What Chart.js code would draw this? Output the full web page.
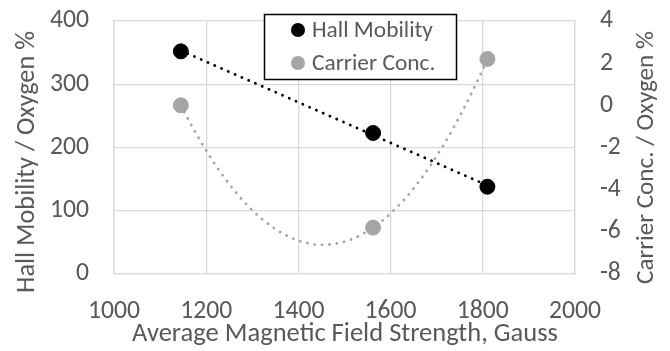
<!DOCTYPE html>
<html>
<head>
<meta charset="utf-8">
<script src="https://cdn.jsdelivr.net/npm/chart.js@4/dist/chart.umd.min.js"></script>
<style>
html,body{margin:0;padding:0;background:#fff;}
#wrap{width:670px;height:351px;position:relative;}
</style>
</head>
<body>
<div id="wrap"><canvas id="c" width="670" height="351"></canvas></div>
<script>
// ---- data ----
const fieldGauss   = [1145, 1562, 1810];
const hallMobility = [352, 223, 138];
const carrierConc  = [0, -5.8, 2.2];
const seriesNames  = ['Hall Mobility', 'Carrier Conc.'];
const xTicks  = [1000, 1200, 1400, 1600, 1800, 2000];
const xTitle  = 'Average Magnetic Field Strength, Gauss';
const yTitleL = 'Hall Mobility / Oxygen %';
const yTitleR = 'Carrier Conc. / Oxygen %';

const FONT = 'Carlito, Lato';
const TXT = '#595959';
const GRID = '#D9D9D9';
const AREA = { left: 114, top: 21, right: 575, bottom: 274 };

const mctx = document.createElement('canvas').getContext('2d');
function fitSize(text, target){
  mctx.font = '100px ' + FONT;
  return 100 * target / mctx.measureText(text).width;
}
const TICK_FS   = fitSize('1000', 52);
const XT_FS     = fitSize(xTitle, 426);
const YL_FS     = fitSize(yTitleL, 262);
const YR_FS     = fitSize(yTitleR, 253);
const LEG_FS    = fitSize(seriesNames[0], 121);

function linFit(xs, ys){
  const n = xs.length;
  let sx=0, sy=0, sxx=0, sxy=0;
  for(let i=0;i<n;i++){sx+=xs[i];sy+=ys[i];sxx+=xs[i]*xs[i];sxy+=xs[i]*ys[i];}
  const b = (n*sxy - sx*sy)/(n*sxx - sx*sx);
  const a = (sy - b*sx)/n;
  return x => a + b*x;
}
function quadFit(xs, ys){
  let S=[0,0,0,0,0], T=[0,0,0];
  for(let i=0;i<xs.length;i++){
    const x = xs[i]-xs[0], y = ys[i];
    for(let k=0;k<5;k++) S[k]+=Math.pow(x,k);
    for(let k=0;k<3;k++) T[k]+=Math.pow(x,k)*y;
  }
  const M=[[S[0],S[1],S[2],T[0]],[S[1],S[2],S[3],T[1]],[S[2],S[3],S[4],T[2]]];
  for(let i=0;i<3;i++){
    let p=i; for(let r=i+1;r<3;r++) if(Math.abs(M[r][i])>Math.abs(M[p][i])) p=r;
    [M[i],M[p]]=[M[p],M[i]];
    for(let r=0;r<3;r++){ if(r===i) continue; const f=M[r][i]/M[i][i]; for(let c=i;c<4;c++) M[r][c]-=f*M[i][c]; }
  }
  const c0=M[0][3]/M[0][0], c1=M[1][3]/M[1][1], c2=M[2][3]/M[2][2];
  const x0 = xs[0];
  return x => { const d=x-x0; return c0 + c1*d + c2*d*d; };
}

const trendPlugin = {
  id: 'trend',
  beforeDatasetsDraw(chart){
    const ctx = chart.ctx, xs = chart.scales.x;
    const ca = chart.chartArea;
    ctx.save();
    ctx.beginPath(); ctx.rect(ca.left, ca.top, ca.right-ca.left, ca.bottom-ca.top); ctx.clip();
    ctx.lineCap = 'round';
    ctx.lineWidth = 2.8;
    ctx.setLineDash([0.1, 7.3]);
    chart.data.datasets.forEach((ds) => {
      const px = ds.data.map(p=>p.x), py = ds.data.map(p=>p.y);
      const ys = chart.scales[ds.yAxisID];
      const f = ds.trend === 'linear' ? linFit(px, py) : quadFit(px, py);
      const x0 = Math.min(...px), x1 = Math.max(...px);
      ctx.strokeStyle = ds.trendColor;
      ctx.beginPath();
      const N = 200;
      for(let k=0;k<=N;k++){
        const xv = x0 + (x1-x0)*k/N;
        const X = xs.getPixelForValue(xv), Y = ys.getPixelForValue(f(xv));
        if(k===0) ctx.moveTo(X,Y); else ctx.lineTo(X,Y);
      }
      ctx.stroke();
    });
    ctx.restore();
  }
};

const decoPlugin = {
  id: 'deco',
  afterDraw(chart){
    const ctx = chart.ctx;
    ctx.save();
    ctx.fillStyle = TXT;
    ctx.textBaseline = 'alphabetic';
    ctx.textAlign = 'center';
    ctx.font = XT_FS + 'px ' + FONT;
    ctx.fillText(xTitle, 345, 341);
    ctx.save();
    ctx.translate(34, 162); ctx.rotate(-Math.PI/2);
    ctx.font = YL_FS + 'px ' + FONT;
    ctx.fillText(yTitleL, 0, 0);
    ctx.restore();
    ctx.save();
    ctx.translate(653, 157.5); ctx.rotate(-Math.PI/2);
    ctx.font = YR_FS + 'px ' + FONT;
    ctx.fillText(yTitleR, 0, 0);
    ctx.restore();
    const bx=264.5, by=14.5, bw=192, bh=65;
    ctx.fillStyle='#fff';
    ctx.fillRect(bx,by,bw,bh);
    ctx.strokeStyle='#000'; ctx.lineWidth=1.5;
    ctx.strokeRect(bx,by,bw,bh);
    ctx.font = LEG_FS+'px '+FONT;
    ctx.textAlign = 'left';
    ctx.textBaseline='middle';
    chart.data.datasets.forEach((ds,i)=>{
      const cy = 30 + i*33;
      ctx.fillStyle = ds.backgroundColor;
      ctx.beginPath(); ctx.arc(298, cy, 7, 0, Math.PI*2); ctx.fill();
      ctx.fillStyle = TXT;
      ctx.fillText(ds.label, 312, cy+1);
    });
    ctx.restore();
  }
};

function noPad(s){ s.paddingTop = 0; s.paddingBottom = 0; }

const chart = new Chart(document.getElementById('c'), {
  type: 'scatter',
  data: {
    datasets: [
      { label: seriesNames[0], data: fieldGauss.map((x,i)=>({x, y: hallMobility[i]})),
        yAxisID: 'y', backgroundColor: '#000000', borderColor: '#000000',
        pointRadius: 7.5, pointHoverRadius: 7.5, trend: 'linear', trendColor: '#000000' },
      { label: seriesNames[1], data: fieldGauss.map((x,i)=>({x, y: carrierConc[i]})),
        yAxisID: 'y2', backgroundColor: '#A5A5A5', borderColor: '#A5A5A5',
        pointRadius: 7.5, pointHoverRadius: 7.5, trend: 'poly2', trendColor: '#A5A5A5' }
    ]
  },
  options: {
    responsive: false,
    animation: false,
    events: [],
    layout: { padding: { top: AREA.top, left: 0, right: 0, bottom: 0 } },
    plugins: { legend: { display: false }, tooltip: { enabled: false } },
    scales: {
      x: {
        type: 'linear', min: xTicks[0], max: xTicks[xTicks.length-1],
        afterBuildTicks(s){ s.ticks = xTicks.map(v=>({value:v})); },
        ticks: { color: TXT, font: { family: FONT, size: TICK_FS }, padding: 22, maxRotation: 0,
                 callback: v => String(v) },
        grid: { color: GRID, lineWidth: 1.3, drawTicks: false },
        border: { color: GRID, width: 1.3 },
        afterFit(s){ s.height = 351 - AREA.bottom; s.paddingLeft = 0; s.paddingRight = 0; }
      },
      y: {
        position: 'left', min: 0, max: 400,
        ticks: { stepSize: 100, color: TXT, font: { family: FONT, size: TICK_FS }, padding: 25 },
        grid: { color: GRID, lineWidth: 1.3, drawTicks: false },
        border: { color: GRID, width: 1.3 },
        afterFit(s){ s.width = AREA.left; noPad(s); }
      },
      y2: {
        position: 'right', min: -8, max: 4,
        ticks: { stepSize: 2, color: TXT, font: { family: FONT, size: TICK_FS }, padding: 25 },
        grid: { display: false, drawTicks: false },
        border: { color: GRID, width: 1.3 },
        afterFit(s){ s.width = 670 - AREA.right; noPad(s); }
      }
    }
  },
  plugins: [trendPlugin, decoPlugin]
});

for (let it = 0; it < 3; it++) {
  const ca = chart.chartArea, p = chart.options.layout.padding;
  const dt = AREA.top - ca.top, db = ca.bottom - AREA.bottom;
  const dl = AREA.left - ca.left, dr = ca.right - AREA.right;
  if (Math.abs(dt) < 0.5 && Math.abs(db) < 0.5 && Math.abs(dl) < 0.5 && Math.abs(dr) < 0.5) break;
  p.top += dt; p.bottom += db; p.left += dl; p.right += dr;
  chart.update();
}
</script>
</body>
</html>
